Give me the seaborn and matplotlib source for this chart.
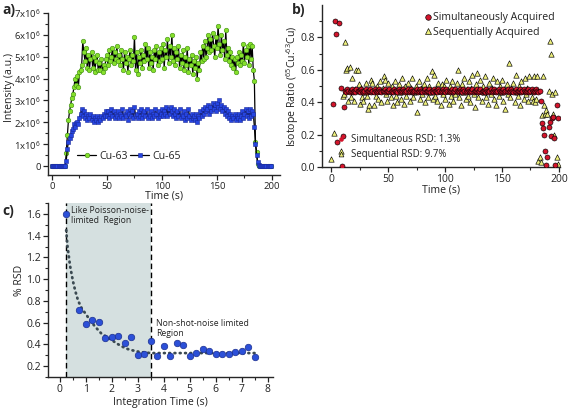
import numpy as np
import pandas as pd
import matplotlib
matplotlib.use("Agg")
import matplotlib.pyplot as plt
from matplotlib.lines import Line2D
from matplotlib.ticker import MultipleLocator, FixedLocator
import seaborn as sns

# ---------------- data ----------------
# Panel a: intensities (units of 1e6) vs time (s)
time_a = list(range(0, 200))
cu63 = [
    0, 0, 0, 0, 0, 0, 0, 0, 0, 0,
    0, 0, 0, 0.6, 1.4, 2.1, 2.5, 2.8, 3.1, 3.3,
    3.6, 4.0, 3.7, 4.1, 3.6, 4.3, 4.4, 4.6, 5.7, 5.2,
    4.8, 5.4, 4.5, 5.1, 4.4, 4.9, 5.2, 4.5, 5.0, 4.3,
    4.8, 5.1, 4.4, 4.7, 4.4, 4.9, 4.3, 4.6, 4.5, 4.9,
    5.1, 4.6, 5.3, 4.8, 5.0, 5.4, 4.7, 5.2, 4.9, 5.5,
    4.8, 5.1, 4.6, 5.3, 4.9, 4.4, 5.2, 4.7, 5.0, 4.3,
    4.9, 5.3, 4.6, 5.1, 4.8, 5.9, 4.4, 5.2, 4.2, 5.0,
    4.7, 5.3, 4.5, 5.1, 4.8, 5.6, 4.9, 5.4, 4.5, 5.2,
    4.7, 5.0, 4.4, 5.3, 4.9, 5.5, 4.6, 5.2, 4.8, 5.4,
    4.9, 5.6, 4.5, 5.3, 5.0, 5.8, 4.7, 5.5, 5.0, 6.0,
    4.8, 5.4, 4.6, 5.2, 4.9, 5.5, 4.5, 5.1, 4.7, 5.3,
    4.4, 5.0, 4.6, 5.4, 4.3, 4.9, 4.6, 5.1, 4.2, 4.8,
    4.5, 5.0, 4.0, 4.7, 4.4, 5.2, 4.8, 5.5, 4.9, 5.7,
    5.0, 5.4, 6.0, 5.2, 5.8, 5.3, 6.1, 5.5, 5.0, 5.9,
    5.4, 6.4, 5.6, 5.1, 6.0, 5.3, 5.7, 4.9, 6.2, 5.1,
    5.4, 4.8, 5.2, 4.6, 5.0, 4.5, 4.9, 4.3, 5.0, 4.7,
    5.2, 4.6, 5.1, 4.8, 5.6, 4.7, 5.3, 5.0, 5.5, 4.6,
    5.6, 4.9, 5.5, 4.4, 3.9, 1.1, 0.65, 0.1, 0, 0,
    0, 0, 0, 0, 0, 0, 0, 0, 0, 0,
]
cu65 = [
    0, 0, 0, 0, 0, 0, 0, 0, 0, 0,
    0, 0, 0, 0.25, 0.8, 1.1, 1.3, 1.4, 1.6, 1.7,
    1.9, 1.8, 1.95, 2.0, 1.9, 2.2, 2.4, 2.6, 2.3, 2.5,
    2.2, 2.4, 2.1, 2.3, 2.2, 2.4, 2.1, 2.3, 2.0, 2.2,
    2.1, 2.3, 2.0, 2.2, 2.1, 2.3, 2.2, 2.4, 2.3, 2.5,
    2.3, 2.5, 2.2, 2.4, 2.6, 2.3, 2.5, 2.2, 2.4, 2.3,
    2.5, 2.2, 2.4, 2.3, 2.6, 2.2, 2.4, 2.3, 2.5, 2.1,
    2.4, 2.6, 2.3, 2.5, 2.2, 2.7, 2.3, 2.4, 2.2, 2.5,
    2.3, 2.6, 2.2, 2.4, 2.5, 2.3, 2.6, 2.2, 2.4, 2.3,
    2.5, 2.2, 2.4, 2.3, 2.6, 2.4, 2.2, 2.5, 2.3, 2.4,
    2.6, 2.3, 2.5, 2.4, 2.7, 2.3, 2.6, 2.4, 2.7, 2.5,
    2.3, 2.6, 2.4, 2.2, 2.5, 2.3, 2.6, 2.2, 2.4, 2.3,
    2.5, 2.1, 2.4, 2.2, 2.6, 2.3, 2.1, 2.4, 2.2, 2.3,
    2.1, 2.4, 2.0, 2.3, 2.2, 2.5, 2.3, 2.6, 2.4, 2.7,
    2.5, 2.6, 2.8, 2.4, 2.7, 2.5, 2.9, 2.6, 2.8, 2.5,
    2.9, 2.7, 3.0, 2.6, 2.8, 2.5, 2.7, 2.4, 2.6, 2.3,
    2.5, 2.2, 2.4, 2.1, 2.3, 2.2, 2.4, 2.1, 2.3, 2.2,
    2.4, 2.1, 2.3, 2.5, 2.2, 2.4, 2.6, 2.3, 2.5, 2.2,
    2.6, 2.3, 2.5, 2.4, 1.8, 1.0, 0.5, 0.2, 0.05, 0,
    0, 0, 0, 0, 0, 0, 0, 0, 0, 0,
]

# Panel b: isotope ratio vs time (s)
nan = np.nan
time_b = list(range(0, 200))
ratio_simultaneous = [
    nan, 0.39, nan, 0.90, 0.82, 0.155, nan, 0.89, 0.485, 0.005,
    0.19, 0.37, 0.47, 0.46, 0.48, 0.47, 0.46, 0.47, 0.48, 0.46,
    0.47, 0.46, 0.48, 0.47, 0.47, 0.46, 0.48, 0.47, 0.46, 0.47,
    0.48, 0.46, 0.47, 0.47, 0.48, 0.46, 0.47, 0.46, 0.48, 0.47,
    0.46, 0.47, 0.48, 0.47, 0.46, 0.47, 0.47, 0.48, 0.46, 0.47,
    0.47, 0.48, 0.46, 0.47, 0.46, 0.48, 0.47, 0.47, 0.46, 0.48,
    0.47, 0.46, 0.47, 0.48, 0.47, 0.46, 0.47, 0.48, 0.46, 0.47,
    0.48, 0.47, 0.46, 0.47, 0.47, 0.48, 0.46, 0.47, 0.48, 0.47,
    0.46, 0.47, 0.48, 0.46, 0.47, 0.47, 0.48, 0.46, 0.47, 0.46,
    0.48, 0.47, 0.47, 0.46, 0.48, 0.47, 0.46, 0.47, 0.48, 0.47,
    0.46, 0.48, 0.47, 0.47, 0.46, 0.47, 0.48, 0.46, 0.47, 0.48,
    0.47, 0.46, 0.47, 0.48, 0.47, 0.46, 0.48, 0.47, 0.46, 0.47,
    0.48, 0.47, 0.46, 0.47, 0.48, 0.46, 0.47, 0.47, 0.48, 0.46,
    0.47, 0.48, 0.46, 0.47, 0.47, 0.46, 0.48, 0.47, 0.46, 0.47,
    0.48, 0.46, 0.47, 0.48, 0.47, 0.46, 0.47, 0.48, 0.47, 0.46,
    0.47, 0.48, 0.46, 0.47, 0.47, 0.48, 0.46, 0.47, 0.48, 0.47,
    0.46, 0.47, 0.48, 0.46, 0.47, 0.47, 0.48, 0.46, 0.47, 0.48,
    0.47, 0.46, 0.47, 0.48, 0.46, 0.47, 0.48, 0.47, 0.46, 0.47,
    0.48, 0.47, 0.46, 0.47, 0.41, 0.27, 0.24, 0.20, 0.10, 0.01,
    0.06, 0.25, 0.28, 0.19, 0.30, 0.31, 0.18, 0.01, 0.38, 0.30,
]
ratio_sequential = [
    0.05, nan, 0.21, nan, nan, nan, nan, nan, 0.10, nan,
    0.44, 0.45, 0.77, 0.60, 0.61, 0.41, 0.62, 0.43, 0.55, 0.47,
    0.41, 0.48, 0.60, 0.60, 0.51, 0.39, 0.49, 0.43, 0.41, 0.46,
    0.52, 0.44, 0.36, 0.38, 0.47, 0.54, 0.52, 0.38, 0.48, 0.44,
    0.50, 0.42, 0.47, 0.53, 0.40, 0.49, 0.56, 0.54, 0.45, 0.41,
    0.52, 0.47, 0.43, 0.50, 0.38, 0.48, 0.53, 0.44, 0.40, 0.51,
    0.46, 0.42, 0.55, 0.48, 0.39, 0.50, 0.44, 0.52, 0.47, 0.41,
    0.49, 0.55, 0.43, 0.46, 0.50, 0.34, 0.47, 0.53, 0.42, 0.49,
    0.45, 0.51, 0.40, 0.48, 0.55, 0.43, 0.50, 0.46, 0.59, 0.42,
    0.57, 0.44, 0.49, 0.41, 0.52, 0.47, 0.38, 0.51, 0.45, 0.50,
    0.42, 0.54, 0.47, 0.39, 0.50, 0.44, 0.53, 0.41, 0.48, 0.45,
    0.52, 0.60, 0.43, 0.49, 0.38, 0.51, 0.46, 0.55, 0.42, 0.48,
    0.44, 0.53, 0.40, 0.49, 0.57, 0.45, 0.37, 0.51, 0.58, 0.43,
    0.47, 0.54, 0.41, 0.50, 0.46, 0.56, 0.43, 0.48, 0.39, 0.52,
    0.45, 0.49, 0.55, 0.42, 0.47, 0.38, 0.53, 0.44, 0.50, 0.46,
    0.54, 0.41, 0.48, 0.36, 0.51, 0.45, 0.64, 0.43, 0.49, 0.47,
    0.52, 0.40, 0.57, 0.46, 0.44, 0.50, 0.38, 0.53, 0.47, 0.42,
    0.55, 0.45, 0.49, 0.41, 0.56, 0.47, 0.43, 0.41, 0.56, 0.40,
    0.42, 0.56, 0.04, 0.06, 0.03, 0.32, 0.56, 0.38, 0.33, 0.35,
    0.33, 0.47, 0.78, 0.70, 0.45, 0.33, 0.20, 0.46, 0.06, 0.02,
]
plateau_start, plateau_end = 12, 183

# Panel c: %RSD vs integration time (s)
integration_time = [0.25, 0.75, 1.0, 1.25, 1.5, 1.75, 2.0, 2.25, 2.5, 2.75,
                    3.0, 3.25, 3.5, 3.75, 4.0, 4.25, 4.5, 4.75, 5.0, 5.25,
                    5.5, 5.75, 6.0, 6.25, 6.5, 6.75, 7.0, 7.25, 7.5]
rsd = [1.60, 0.72, 0.59, 0.625, 0.605, 0.46, 0.47, 0.475, 0.41, 0.47,
       0.305, 0.315, 0.43, 0.29, 0.385, 0.29, 0.41, 0.39, 0.295, 0.32,
       0.355, 0.335, 0.31, 0.315, 0.31, 0.33, 0.34, 0.38, 0.28]
fit_time = [0.25, 0.3, 0.4, 0.51, 0.6, 0.71, 0.85, 1.03, 1.2, 1.41, 1.6,
            1.8, 2.0, 2.18, 2.4, 2.57, 2.8, 3.08, 3.3, 3.5, 4.0, 5.0, 6.0, 7.0, 7.5]
fit_rsd = [1.45, 1.30, 1.12, 0.98, 0.89, 0.80, 0.73, 0.67, 0.61, 0.55, 0.50,
           0.47, 0.44, 0.41, 0.38, 0.36, 0.345, 0.33, 0.325, 0.32, 0.32, 0.32,
           0.32, 0.32, 0.32]

# ---------------- style ----------------
sns.set_theme(style="ticks")
plt.rcParams["font.family"] = ["Open Sans", "DejaVu Sans"]
plt.rcParams["mathtext.default"] = "regular"
plt.rcParams["axes.linewidth"] = 1.0
plt.rcParams["xtick.major.size"] = 3.5
plt.rcParams["ytick.major.size"] = 3.5
plt.rcParams["xtick.minor.size"] = 2
plt.rcParams["ytick.minor.size"] = 2
plt.rcParams["xtick.major.pad"] = 1.2
plt.rcParams["ytick.major.pad"] = 1.5
plt.rcParams["legend.numpoints"] = 1

LAB_FS = 7.6
TXT = "#222222"

W, H = 569, 409
fig = plt.figure(figsize=(W / 100, H / 100), dpi=100)


def ax_from_px(l, r, t, b):
    return fig.add_axes([l / W, 1 - b / H, (r - l) / W, (b - t) / H])


def style_ax(ax, fs):
    sns.despine(ax=ax)
    ax.tick_params(labelsize=fs, colors=TXT, width=0.9)
    ax.tick_params(which="minor", width=0.8)


# ---------------- panel a ----------------
ax_a = ax_from_px(48, 280, 13, 175)
df_a = pd.DataFrame({"time": time_a, "cu63": cu63, "cu65": cu65})
green = "#86e02c"
blue = "#2645e0"
sns.lineplot(data=df_a, x="time", y="cu63", ax=ax_a, color="black", lw=0.9,
             marker="o", markersize=3.3, markerfacecolor=green,
             markeredgecolor="#3d8a12", markeredgewidth=0.4)
sns.lineplot(data=df_a, x="time", y="cu65", ax=ax_a, color="black", lw=0.9,
             marker="s", markersize=2.8, markerfacecolor=blue,
             markeredgecolor="#1a2a9a", markeredgewidth=0.4)
ax_a.set_xlim(-3.6, 207.3)
ax_a.set_ylim(-0.41, 7.0)
ax_a.xaxis.set_major_locator(MultipleLocator(50))
ax_a.xaxis.set_minor_locator(MultipleLocator(25))
ax_a.yaxis.set_major_locator(FixedLocator([0, 1, 2, 3, 4, 5, 6, 7]))
ax_a.yaxis.set_minor_locator(MultipleLocator(0.5))
ax_a.set_yticklabels(["0"] + [f"{i}x10$^6$" for i in range(1, 8)])
ax_a.set_xlabel("Time (s)", fontsize=LAB_FS, color=TXT)
ax_a.set_ylabel("Intensity (a.u.)", fontsize=LAB_FS, color=TXT)
ax_a.xaxis.set_label_coords(0.5, -0.095)
ax_a.yaxis.set_label_coords(-0.142, 0.54)
style_ax(ax_a, 6.8)
h63 = Line2D([], [], color="black", lw=0.9, marker="o", markersize=3.3,
             markerfacecolor=green, markeredgecolor="#3d8a12", markeredgewidth=0.4)
h65 = Line2D([], [], color="black", lw=0.9, marker="s", markersize=2.8,
             markerfacecolor=blue, markeredgecolor="#1a2a9a", markeredgewidth=0.4)
ax_a.legend([h63, h65], ["Cu-63", "Cu-65"], loc="center",
            bbox_to_anchor=(0.35, 0.115), ncol=2, frameon=False,
            fontsize=LAB_FS, handlelength=1.8, handletextpad=0.3,
            columnspacing=0.2, borderpad=0, labelcolor=TXT)

# ---------------- panel b ----------------
ax_b = ax_from_px(322, 560, 5, 167)
df_b = pd.DataFrame({"time": time_b, "sim": ratio_simultaneous,
                     "seq": ratio_sequential})
red = "#d3142b"
yellow = "#eef07c"
sns.scatterplot(data=df_b, x="time", y="seq", ax=ax_b, marker="^", s=15,
                color=yellow, edgecolor="black", linewidth=0.45, zorder=2)
plateau = df_b[(df_b["time"] >= plateau_start) & (df_b["time"] <= plateau_end)]
sns.lineplot(data=plateau, x="time", y="sim", ax=ax_b, color="black", lw=0.9,
             zorder=3)
sns.scatterplot(data=df_b, x="time", y="sim", ax=ax_b, marker="o", s=13,
                color=red, edgecolor="black", linewidth=0.45, zorder=4)
ax_b.set_xlim(-8.3, 201)
ax_b.set_ylim(0, 1.0)
ax_b.xaxis.set_major_locator(MultipleLocator(50))
ax_b.xaxis.set_minor_locator(MultipleLocator(25))
ax_b.yaxis.set_major_locator(FixedLocator([0.0, 0.2, 0.4, 0.6, 0.8]))
ax_b.yaxis.set_minor_locator(FixedLocator([0.1, 0.3, 0.5, 0.7, 0.9]))
ax_b.set_yticklabels(["0.0", "0.2", "0.4", "0.6", "0.8"])
ax_b.set_xlabel("Time (s)", fontsize=LAB_FS, color=TXT)
ax_b.set_ylabel("Isotope Ratio ($^{65}$Cu:$^{63}$Cu)", fontsize=LAB_FS, color=TXT)
ax_b.xaxis.set_label_coords(0.5, -0.111)
ax_b.yaxis.set_label_coords(-0.088, 0.5)
style_ax(ax_b, 7.5)
hs = Line2D([], [], ls="none", marker="o", markersize=4, markerfacecolor=red,
            markeredgecolor="black", markeredgewidth=0.45)
hq = Line2D([], [], ls="none", marker="^", markersize=4.5, markerfacecolor=yellow,
            markeredgecolor="black", markeredgewidth=0.45)
leg1 = ax_b.legend([hs, hq], ["Simultaneously Acquired", "Sequentially Acquired"],
                   loc="upper right", bbox_to_anchor=(1.01, 1.0), frameon=False,
                   fontsize=LAB_FS, handlelength=0.6, handletextpad=0.2,
                   labelspacing=0.3, borderpad=0.2, labelcolor=TXT)
ax_b.add_artist(leg1)
hs2 = Line2D([], [], ls="none", marker="o", markersize=3, markerfacecolor=red,
             markeredgecolor=red, markeredgewidth=0.3)
hq2 = Line2D([], [], ls="none", marker="^", markersize=3.5, markerfacecolor=yellow,
             markeredgecolor="black", markeredgewidth=0.45)
ax_b.legend([hs2, hq2], ["Simultaneous RSD: 1.3%", "Sequential RSD: 9.7%"],
            loc="lower left", bbox_to_anchor=(0.035, 0.0), frameon=False,
            fontsize=6.9, handlelength=0.8, handletextpad=0.7,
            labelspacing=0.4, borderpad=0.2, labelcolor=TXT)

# ---------------- panel c ----------------
ax_c = ax_from_px(48, 273, 203, 377)
ax_c.set_xlim(-0.45, 8.2)
ax_c.set_ylim(0.10, 1.70)
ax_c.axvspan(0.25, 3.5, color="#d5e0e0", lw=0, zorder=0)
for xv in (0.25, 3.5):
    ax_c.axvline(xv, color="black", ls=(0, (4, 2.5)), lw=1.0, zorder=1)
sns.lineplot(x=fit_time, y=fit_rsd, ax=ax_c, color="#3b4a52", lw=2.0,
             ls=(0, (0.3, 1.6)), dash_capstyle="round", zorder=2)
sns.scatterplot(x=integration_time, y=rsd, ax=ax_c, s=22, color="#2c50d8",
                edgecolor="#1b2f8f", linewidth=0.5, zorder=3)
ax_c.xaxis.set_major_locator(MultipleLocator(1))
ax_c.xaxis.set_minor_locator(MultipleLocator(0.5))
ax_c.yaxis.set_major_locator(FixedLocator([0.2, 0.4, 0.6, 0.8, 1.0, 1.2, 1.4, 1.6]))
ax_c.yaxis.set_minor_locator(MultipleLocator(0.1))
ax_c.set_yticklabels(["0.2", "0.4", "0.6", "0.8", "1.0", "1.2", "1.4", "1.6"])
ax_c.set_xlabel("Integration Time (s)", fontsize=LAB_FS, color=TXT)
ax_c.set_ylabel("% RSD", fontsize=LAB_FS, color=TXT)
ax_c.xaxis.set_label_coords(0.5, -0.115)
ax_c.yaxis.set_label_coords(-0.102, 0.557)
style_ax(ax_c, 7.5)
ax_c.text(0.42, 1.675, "Like Poisson-noise-\nlimited  Region", fontsize=6.2,
          va="top", ha="left", linespacing=1.2, color=TXT)
ax_c.text(3.72, 0.635, "Non-shot-noise limited\nRegion", fontsize=6.2,
          va="top", ha="left", linespacing=1.2, color=TXT)

# ---------------- panel labels ----------------
fig.text(2 / W, 1 - 3 / H, "a)", fontsize=10, fontweight="bold", va="top", ha="left")
fig.text(292 / W, 1 - 3 / H, "b)", fontsize=10, fontweight="bold", va="top", ha="left")
fig.text(2 / W, 1 - 204 / H, "c)", fontsize=10, fontweight="bold", va="top", ha="left")

fig.savefig("out.png", dpi=100)
